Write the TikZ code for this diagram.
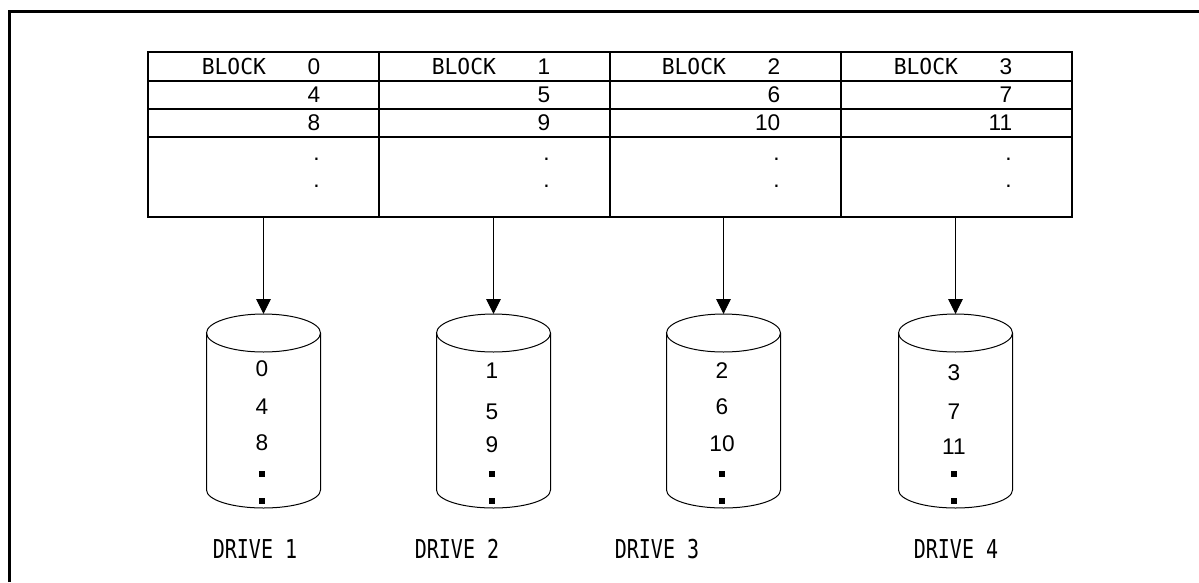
\documentclass[tikz,border=0pt]{standalone}
\usepackage{fontspec}
\setmainfont{Liberation Sans}
\newfontfamily\drivefont[FakeStretch=0.77]{DejaVu Sans Mono}
\newfontfamily\blockfont[FakeStretch=0.97]{DejaVu Sans Mono}
\newcommand\blkfont{\blockfont\fontsize{16.5pt}{18pt}\selectfont}
\newcommand\numfont{\fontsize{17pt}{19pt}\selectfont}
\newcommand\drvfont{\drivefont\fontsize{19.5pt}{22pt}\selectfont}
\usetikzlibrary{arrows.meta}
\tikzset{
  tbl/.style={line width=1.5pt},
  hair/.style={line width=0.75pt},
  blk/.style={inner sep=0pt,font=\blkfont},
  num/.style={inner sep=0pt,font=\numfont},
  drv/.style={inner sep=0pt,font=\drvfont},
  feed/.style={hair,-{Triangle[length=11.25pt,width=11pt]}}
}
\begin{document}
\begin{tikzpicture}[x=0.75pt,y=-0.75pt]
\useasboundingbox (0,0) rectangle (1199,582);
% outer frame, runs off the page to the right and below
\draw[line width=2.25pt] (9,582) -- (9,11) -- (1199,11);
% the striping table
\draw[tbl] (148,52) rectangle (1072,217);
\draw[tbl] (148,81) -- (1072,81) (148,109) -- (1072,109) (148,137) -- (1072,137);
\draw[tbl] (379,52) -- (379,217) (610,52) -- (610,217) (841,52) -- (841,217);
\foreach \i/\cx/\ya/\yb/\yc/\dx in {0/263.5/369/407/443/255, 1/493.5/371/412/445/457, 2/723.5/371/407/444/657, 3/955.5/373/412/447/956} {
  % block column
  \node[blk,anchor=west] (blk\i) at (\cx-62,66.5) {BLOCK};
  \node[num,anchor=east] (r1\i) at (\cx+57,66.5) {\i};
  \node[num,anchor=east] (r2\i) at (\cx+57,95) {\the\numexpr\i+4\relax};
  \node[num,anchor=east] (r3\i) at (\cx+57,123) {\the\numexpr\i+8\relax};
  \node[num,anchor=base east] (p1\i) at (\cx+56.5,160) {.};
  \node[num,anchor=base east] (p2\i) at (\cx+56.5,187) {.};
  \coordinate (col\i) at (\cx,217);
  % drive
  \coordinate (top\i) at (\cx,314);
  \draw[hair] (\cx,333) ellipse [x radius=42.75pt,y radius=14.25pt];
  \draw[hair] (\cx-57,333) -- (\cx-57,490)
    arc[start angle=180,end angle=360,x radius=42.75pt,y radius=13.5pt] -- (\cx+57,333);
  \node[num] (d1\i) at (\cx-1.5,\ya) {\i};
  \node[num] (d2\i) at (\cx-1.5,\yb) {\the\numexpr\i+4\relax};
  \node[num] (d3\i) at (\cx-1.5,\yc) {\the\numexpr\i+8\relax};
  \fill (\cx-4.5,470.5) rectangle +(6,6);
  \fill (\cx-4.5,497.5) rectangle +(6,6);
  \draw[feed] (col\i) -- (top\i);
  \node[drv] (lab\i) at (\dx,549) {DRIVE \the\numexpr\i+1\relax};
}
\end{tikzpicture}
\end{document}
